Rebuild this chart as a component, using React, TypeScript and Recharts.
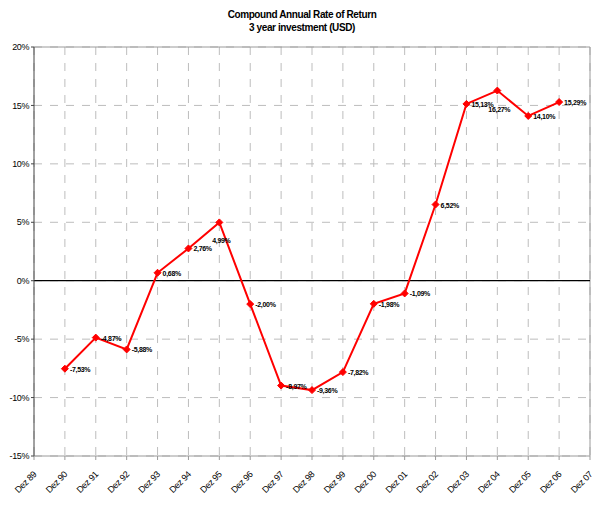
import { LineChart, Line, XAxis, YAxis, CartesianGrid, ReferenceLine, LabelList } from "recharts";

const categories = [
  "Dez 89", "Dez 90", "Dez 91", "Dez 92", "Dez 93", "Dez 94", "Dez 95", "Dez 96", "Dez 97", "Dez 98",
  "Dez 99", "Dez 00", "Dez 01", "Dez 02", "Dez 03", "Dez 04", "Dez 05", "Dez 06", "Dez 07",
];
const returns: (number | null)[] = [
  null, -7.53, -4.87, -5.88, 0.68, 2.76, 4.99, -2.0, -8.97, -9.36,
  -7.82, -1.98, -1.09, 6.52, 15.13, 16.27, 14.1, 15.29, null,
];
const yTicks = [-15, -10, -5, 0, 5, 10, 15, 20];

const data = categories.map((name, i) => ({ name, value: returns[i] }));

const FONT = "'Liberation Sans Narrow', 'Arial Narrow', 'Liberation Sans', sans-serif";

// labels that sit under the point instead of to the right
const below = ["Dez 95", "Dez 04"];

const fmt = (v: number) => v.toFixed(2).replace(".", ",") + "%";

function XTick(props: any) {
  const { x, y, payload } = props;
  const ax = x + 3;
  const ay = y + 13;
  return (
    <text
      x={ax}
      y={ay}
      transform={`rotate(-45 ${ax} ${ay})`}
      textAnchor="end"
      fontSize={9}
      letterSpacing={-0.4}
      fontFamily={FONT}
      fill="#000"
    >
      {payload.value}
    </text>
  );
}

function Diamond(props: any) {
  const { cx, cy, value } = props;
  if (value == null || cx == null) return null;
  const r = 3.5;
  return <path d={`M${cx},${cy - r} L${cx + r},${cy} L${cx},${cy + r} L${cx - r},${cy} Z`} fill="#ff0000" stroke="#ff0000" />;
}

function PointLabel(props: any) {
  const { x, y, value, index } = props;
  if (value == null) return null;
  const name = categories[index];
  const under = below.includes(name);
  return (
    <text
      x={under ? x + 2 : x + 5}
      y={under ? y + 21 : y + 3}
      textAnchor={under ? "middle" : "start"}
      fontSize={7}
      letterSpacing={-0.3}
      fontWeight="bold"
      fontFamily={FONT}
      fill="#000"
    >
      {fmt(value)}
    </text>
  );
}

export default function App() {
  return (
    <div style={{ position: "absolute", left: 0, top: 0, width: 604, height: 508, background: "#fff" }}>
      <div
        style={{
          position: "absolute",
          top: 8,
          left: 0,
          width: 604,
          textAlign: "center",
          fontFamily: FONT,
          fontWeight: "bold",
          fontSize: 10,
          letterSpacing: -0.4,
          lineHeight: "13px",
        }}
      >
        Compound Annual Rate of Return
        <br />3 year investment (USD)
      </div>
      <LineChart width={604} height={508} data={data} margin={{ top: 47, right: 14, bottom: 0, left: 0 }}>
        <CartesianGrid stroke="#bdbdbd" strokeDasharray="8 8" />
        <XAxis
          dataKey="name"
          interval={0}
          tick={<XTick />}
          tickLine={{ stroke: "#9a9a9a" }}
          tickSize={4}
          axisLine={{ stroke: "#9a9a9a" }}
          height={52}
        />
        <YAxis
          width={34}
          domain={[-15, 20]}
          ticks={yTicks}
          interval={0}
          tickFormatter={(v) => `${v}%`}
          tick={{ fontSize: 9, fontFamily: FONT, fill: "#000", letterSpacing: -0.4 }}
          tickLine={{ stroke: "#444" }}
          tickSize={3}
          axisLine={{ stroke: "#444" }}
          allowDataOverflow
        />
        <ReferenceLine y={20} stroke="#9a9a9a" />
        <ReferenceLine x="Dez 07" stroke="#9a9a9a" />
        <ReferenceLine y={0} stroke="#000" strokeWidth={1.2} />
        <Line
          type="linear"
          dataKey="value"
          stroke="#ff0000"
          strokeWidth={2}
          dot={<Diamond />}
          activeDot={false}
          isAnimationActive={false}
        >
          <LabelList dataKey="value" content={<PointLabel />} />
        </Line>
      </LineChart>
    </div>
  );
}
